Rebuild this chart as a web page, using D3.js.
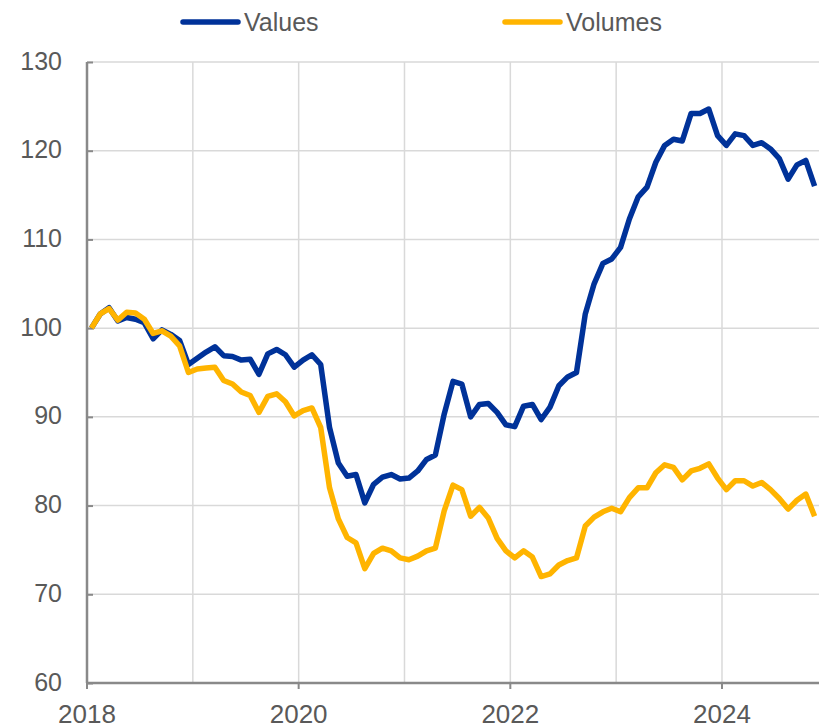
<!DOCTYPE html>
<html>
<head>
<meta charset="utf-8">
<script src="https://cdn.jsdelivr.net/npm/d3@7"></script>
<style>
  body { margin: 0; background: #fff; }
  svg text { font-family: "Liberation Sans", Arial, sans-serif; fill: #595959; }
</style>
</head>
<body>
<svg id="chart"></svg>
<script>
// monthly categories, Jan 2018 - Nov 2024
var months = d3.timeMonth.range(new Date(2018, 0, 1), new Date(2024, 11, 1));

var values = [100.0, 101.6, 102.3, 100.8, 101.2, 101.0, 100.6, 98.8, 99.8, 99.3, 98.6, 95.9,
              96.6, 97.3, 97.9, 96.9, 96.8, 96.4, 96.5, 94.8, 97.1, 97.6, 97.0, 95.6,
              96.4, 97.0, 95.9, 88.8, 84.8, 83.3, 83.5, 80.3, 82.4, 83.2, 83.5, 83.0,
              83.1, 83.9, 85.2, 85.7, 90.3, 94.0, 93.7, 90.0, 91.4, 91.5, 90.5, 89.1,
              88.9, 91.2, 91.4, 89.7, 91.1, 93.5, 94.5, 95.0, 101.6, 105.0, 107.3, 107.8,
              109.1, 112.3, 114.8, 115.9, 118.7, 120.6, 121.3, 121.1, 124.2, 124.2, 124.7, 121.7,
              120.6, 121.9, 121.7, 120.6, 120.9, 120.2, 119.1, 116.8, 118.4, 118.9, 116.0];

var volumes = [100.0, 101.6, 102.2, 100.9, 101.8, 101.7, 101.0, 99.4, 99.7, 99.1, 98.0, 95.0,
               95.4, 95.5, 95.6, 94.1, 93.7, 92.8, 92.4, 90.5, 92.3, 92.6, 91.7, 90.1,
               90.7, 91.0, 88.8, 82.0, 78.5, 76.4, 75.8, 72.9, 74.6, 75.2, 74.9, 74.1,
               73.9, 74.3, 74.9, 75.2, 79.4, 82.3, 81.8, 78.8, 79.8, 78.6, 76.3, 74.9,
               74.1, 74.9, 74.2, 72.0, 72.3, 73.3, 73.8, 74.1, 77.7, 78.7, 79.3, 79.7,
               79.3, 80.9, 82.0, 82.0, 83.7, 84.6, 84.3, 82.9, 83.9, 84.2, 84.7, 83.1,
               81.8, 82.8, 82.8, 82.2, 82.6, 81.8, 80.8, 79.6, 80.6, 81.3, 78.8];

var yTicks = [60, 70, 80, 90, 100, 110, 120, 130];
var yearLabels = [2018, 2020, 2022, 2024];

var seriesNames = ["Values", "Volumes"];
var strokes = ["#003299", "#FFB400"];

var margin = { top: 62, right: 6, bottom: 45, left: 87 };
var width = 825 - margin.left - margin.right;
var height = 728 - margin.top - margin.bottom;

var svg = d3.select("#chart")
    .attr("width", 825)
    .attr("height", 728)
    .append("g")
    .attr("transform", "translate(" + margin.left + "," + margin.top + ")");

var x = d3.scaleBand().domain(months).range([0, width]);
var y = d3.scaleLinear().domain([60, 130]).range([height, 0]);

// year boundaries (January of each year)
var januaries = months.filter(function (d) { return d.getMonth() === 0; });

// horizontal grid
svg.append("g")
    .selectAll("line")
    .data(yTicks.slice(1))
    .enter().append("line")
    .attr("x1", 0).attr("x2", width)
    .attr("y1", function (d) { return y(d); })
    .attr("y2", function (d) { return y(d); })
    .attr("stroke", "#d9d9d9")
    .attr("stroke-width", 1.5);

// vertical grid
svg.append("g")
    .selectAll("line")
    .data(januaries.slice(1))
    .enter().append("line")
    .attr("x1", function (d) { return x(d); })
    .attr("x2", function (d) { return x(d); })
    .attr("y1", 0).attr("y2", height)
    .attr("stroke", "#d9d9d9")
    .attr("stroke-width", 1.5);

// Y axis
var yAxis = svg.append("g")
    .call(d3.axisRight(y).tickValues(yTicks).tickSize(6).tickFormat(""));
yAxis.select(".domain").attr("stroke", "#898989").attr("stroke-width", 2.5).attr("d", "M0," + height + "V0");
yAxis.selectAll(".tick line").attr("stroke", "#898989").attr("stroke-width", 2);

svg.append("g")
    .selectAll("text")
    .data(yTicks)
    .enter().append("text")
    .attr("x", -25)
    .attr("y", function (d) { return y(d); })
    .attr("dy", "0.3em")
    .attr("text-anchor", "end")
    .style("font-size", "25px")
    .text(function (d) { return d; });

// X axis
var xAxis = svg.append("g")
    .attr("transform", "translate(0," + height + ")")
    .call(d3.axisBottom(x)
        .tickValues(januaries.filter(function (d) { return yearLabels.indexOf(d.getFullYear()) >= 0; }))
        .tickSize(6)
        .tickFormat(function (d) { return d.getFullYear(); }));
xAxis.select(".domain").attr("stroke", "#898989").attr("stroke-width", 2.5).attr("d", "M0,0H" + width);
xAxis.selectAll(".tick").attr("transform", function (d) { return "translate(" + x(d) + ",0)"; });
xAxis.selectAll(".tick line").attr("stroke", "#898989").attr("stroke-width", 2);
xAxis.selectAll(".tick text")
    .attr("y", 39.5)
    .attr("dy", 0)
    .style("font-size", "26px")
    .style("font-family", "'Liberation Sans', Arial, sans-serif")
    .attr("fill", "#595959");

// lines
var half = x.bandwidth() / 2;
[values, volumes].forEach(function (series, i) {
    var line = d3.line()
        .x(function (d, j) { return x(months[j]) + half; })
        .y(function (d) { return y(d); });
    svg.append("path")
        .datum(series)
        .attr("fill", "none")
        .attr("stroke", strokes[i])
        .attr("stroke-width", 5.5)
        .attr("stroke-linejoin", "round")
        .attr("d", line);
});

// legend
var legend = d3.select("#chart").append("g");
var legendX = [181, 503];
seriesNames.forEach(function (name, i) {
    legend.append("line")
        .attr("x1", legendX[i] + 2).attr("x2", legendX[i] + 57)
        .attr("y1", 22).attr("y2", 22)
        .attr("stroke", strokes[i])
        .attr("stroke-width", 5.5)
        .attr("stroke-linecap", "round");
    legend.append("text")
        .attr("x", legendX[i] + 63)
        .attr("y", 22)
        .attr("dy", "0.35em")
        .style("font-size", "25px")
        .text(name);
});
</script>
</body>
</html>
